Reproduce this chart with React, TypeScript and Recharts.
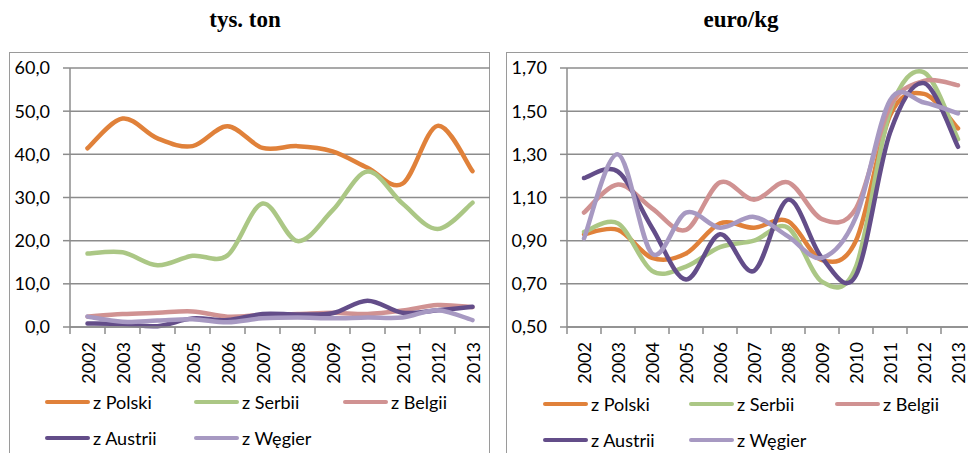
import { CartesianGrid, ComposedChart, Line, XAxis, YAxis } from "recharts";

// Two Excel-style smoothed line charts: import volume (tys. ton) and price (euro/kg).

const years = ["2002", "2003", "2004", "2005", "2006", "2007", "2008", "2009", "2010", "2011", "2012", "2013"];

const tonPolski = [41.4, 48.3, 43.7, 41.9, 46.5, 41.5, 41.9, 40.7, 36.9, 33.2, 46.6, 36.1];
const tonSerbii = [17.0, 17.3, 14.3, 16.5, 16.6, 28.6, 19.9, 27.0, 36.0, 28.6, 22.7, 28.8];
const tonBelgii = [2.4, 3.0, 3.3, 3.6, 2.4, 2.8, 3.0, 3.3, 3.0, 3.8, 5.1, 4.6];
const tonAustrii = [0.8, 0.7, 0.2, 2.0, 1.6, 3.0, 2.9, 3.2, 6.1, 3.3, 3.9, 4.7];
const tonWegier = [2.4, 1.2, 1.5, 1.8, 1.1, 2.0, 2.2, 2.0, 2.2, 2.2, 3.9, 1.6];

const pricePolski = [0.93, 0.95, 0.82, 0.84, 0.98, 0.96, 0.99, 0.81, 0.9, 1.48, 1.58, 1.42];
const priceSerbii = [0.94, 0.98, 0.76, 0.78, 0.87, 0.9, 0.96, 0.71, 0.78, 1.5, 1.68, 1.37];
const priceBelgii = [1.03, 1.16, 1.05, 0.95, 1.17, 1.09, 1.17, 1.0, 1.05, 1.52, 1.64, 1.62];
const priceAustrii = [1.19, 1.22, 0.96, 0.72, 0.93, 0.76, 1.09, 0.82, 0.74, 1.4, 1.63, 1.335];
const priceWegier = [0.91, 1.3, 0.84, 1.03, 0.96, 1.01, 0.92, 0.82, 1.01, 1.55, 1.54, 1.49];

const tonTicks = [0, 10, 20, 30, 40, 50, 60];
const priceTicks = [0.5, 0.7, 0.9, 1.1, 1.3, 1.5, 1.7];

const series = [
  { key: "polski", name: "z Polski", color: "#e0813a" },
  { key: "serbii", name: "z Serbii", color: "#abc785" },
  { key: "belgii", name: "z Belgii", color: "#d09292" },
  { key: "austrii", name: "z Austrii", color: "#634d89" },
  { key: "wegier", name: "z Węgier", color: "#a799c2" },
];

const tonData = years.map((year, i) => ({
  year,
  polski: tonPolski[i],
  serbii: tonSerbii[i],
  belgii: tonBelgii[i],
  austrii: tonAustrii[i],
  wegier: tonWegier[i],
}));

const priceData = years.map((year, i) => ({
  year,
  polski: pricePolski[i],
  serbii: priceSerbii[i],
  belgii: priceBelgii[i],
  austrii: priceAustrii[i],
  wegier: priceWegier[i],
}));

const GRID = "#8c8c8c";
const FONT = "Lato, 'Open Sans', sans-serif";

// Excel "smoothed line": Catmull-Rom style bezier through every point
const excelSmooth = (ctx: any) => {
  let pts: [number, number][] = [];
  return {
    areaStart() {},
    areaEnd() {},
    lineStart() {
      pts = [];
    },
    point(x: number, y: number) {
      pts.push([+x, +y]);
    },
    lineEnd() {
      const n = pts.length;
      if (!n) return;
      ctx.moveTo(pts[0][0], pts[0][1]);
      for (let i = 0; i < n - 1; i++) {
        const p0 = pts[Math.max(i - 1, 0)];
        const p1 = pts[i];
        const p2 = pts[i + 1];
        const p3 = pts[Math.min(i + 2, n - 1)];
        ctx.bezierCurveTo(
          p1[0] + (p2[0] - p0[0]) / 6,
          p1[1] + (p2[1] - p0[1]) / 6,
          p2[0] - (p3[0] - p1[0]) / 6,
          p2[1] - (p3[1] - p1[1]) / 6,
          p2[0],
          p2[1]
        );
      }
    },
  };
};

function YearTick(props: any) {
  const { x, y, payload, bw } = props;
  const tx = x - bw / 2;
  return (
    <g>
      <line x1={tx} x2={tx} y1={y - 15} y2={y - 8} stroke={GRID} strokeWidth={1.5} />
      <text
        x={x}
        y={y}
        transform={`rotate(-90 ${x} ${y})`}
        textAnchor="end"
        dominantBaseline="central"
        fontSize={18}
        fontFamily={FONT}
        fill="#000"
      >
        {payload.value}
      </text>
    </g>
  );
}

function Chart({
  data,
  ticks,
  domain,
  digits,
  marginLeft,
  marginRight,
  bw,
}: {
  data: any[];
  ticks: number[];
  domain: [number, number];
  digits: number;
  marginLeft: number;
  marginRight: number;
  bw: number;
}) {
  return (
    <ComposedChart
      width={490}
      height={453}
      data={data}
      margin={{ top: 68, right: marginRight, bottom: 66, left: marginLeft }}
    >
      <CartesianGrid vertical={false} stroke={GRID} strokeWidth={1.5} />
      <XAxis
        dataKey="year"
        scale="band"
        interval={0}
        height={60}
        tickSize={7}
        tickMargin={8}
        tickLine={false}
        axisLine={{ stroke: GRID, strokeWidth: 1.5 }}
        tick={(p: any) => <YearTick {...p} bw={bw} />}
      />
      <YAxis
        width={60}
        domain={domain}
        ticks={ticks}
        interval={0}
        tickSize={7}
        tickMargin={13}
        tickLine={{ stroke: GRID, strokeWidth: 1.5 }}
        axisLine={{ stroke: GRID, strokeWidth: 1.5 }}
        tick={{ fontSize: 18, fontFamily: FONT, fill: "#000" }}
        tickFormatter={(v: number) => v.toFixed(digits).replace(".", ",")}
      />
      {series.map((s) => (
        <Line
          key={s.key}
          dataKey={s.key}
          name={s.name}
          type={excelSmooth as any}
          stroke={s.color}
          strokeWidth={4.5}
          strokeLinecap="round"
          strokeLinejoin="round"
          dot={false}
          activeDot={false}
          isAnimationActive={false}
        />
      ))}
    </ComposedChart>
  );
}

function ChartLegend({ left, top, colWidth }: { left: number; top: number; colWidth: number }) {
  return (
    <div
      style={{
        position: "absolute",
        left,
        top,
        width: colWidth * 3,
        display: "flex",
        flexWrap: "wrap",
        fontFamily: FONT,
        fontSize: 18,
        color: "#000",
      }}
    >
      {series.map((s) => (
        <div key={s.key} style={{ width: colWidth, height: 36, display: "flex", alignItems: "center" }}>
          <span style={{ width: 45, height: 4, background: s.color, borderRadius: 2, marginRight: 3 }} />
          <span>{s.name}</span>
        </div>
      ))}
    </div>
  );
}

const titleStyle: any = {
  position: "absolute",
  top: 7,
  fontFamily: "'Liberation Serif', 'Times New Roman', serif",
  fontWeight: "bold",
  fontSize: 23,
  textAlign: "center",
  width: 200,
};

export default function App() {
  return (
    <div
      style={{
        position: "absolute",
        left: 0,
        top: 0,
        width: 968,
        height: 453,
        overflow: "hidden",
        background: "#fff",
      }}
    >
      <div style={{ ...titleStyle, left: 145 }}>tys. ton</div>
      <div style={{ ...titleStyle, left: 641 }}>euro/kg</div>

      <div
        style={{
          position: "absolute",
          left: 9,
          top: 52,
          width: 479,
          height: 440,
          border: "1.5px solid #9a9a9a",
        }}
      />
      <div
        style={{
          position: "absolute",
          left: 506,
          top: 52,
          width: 500,
          height: 440,
          border: "1.5px solid #9a9a9a",
        }}
      />

      <div style={{ position: "absolute", left: 0, top: 0 }}>
        <Chart data={tonData} ticks={tonTicks} domain={[0, 60]} digits={1} marginLeft={10} marginRight={0} bw={35} />
      </div>
      <div style={{ position: "absolute", left: 490, top: 0 }}>
        <Chart data={priceData} ticks={priceTicks} domain={[0.5, 1.7]} digits={2} marginLeft={17} marginRight={5} bw={34} />
      </div>

      <ChartLegend left={45} top={384} colWidth={149} />
      <ChartLegend left={543} top={386} colWidth={146} />
    </div>
  );
}
